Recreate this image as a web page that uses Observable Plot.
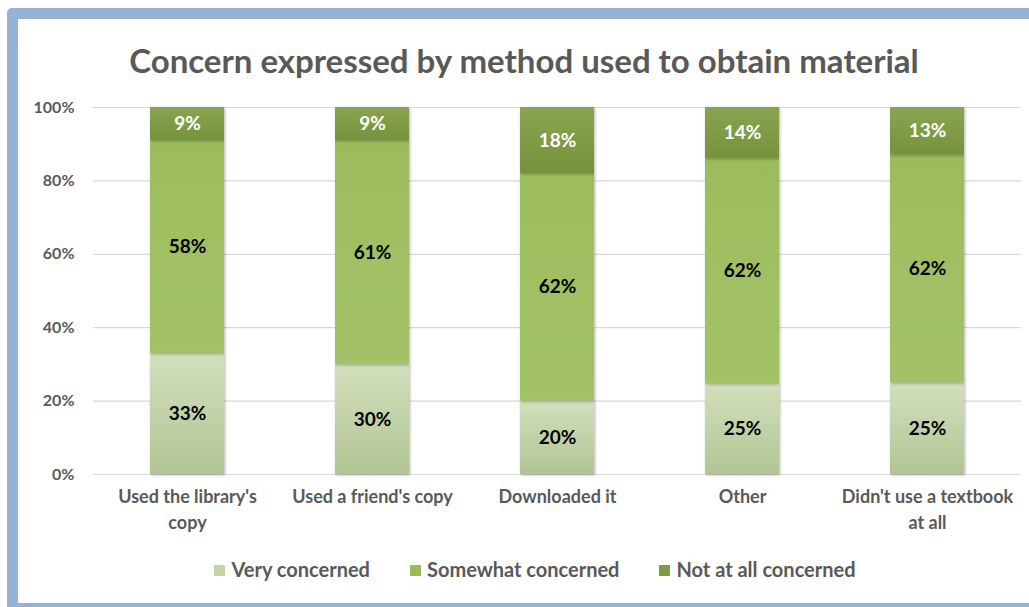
<!DOCTYPE html>
<html><head><meta charset="utf-8">
<script src="https://cdn.jsdelivr.net/npm/d3@7"></script>
<script src="https://cdn.jsdelivr.net/npm/@observablehq/plot@0.6"></script>
<style>
html,body{margin:0;padding:0;background:#fff;}
body{width:1029px;height:607px;overflow:hidden;position:relative;font-family:Lato,"Open Sans",sans-serif;}
#frame{position:absolute;left:7px;top:8px;width:1040px;height:584px;border:11px solid #95b3d7;border-radius:5px;background:#fff;}
#title{position:absolute;left:0;width:1048px;top:40px;text-align:center;font-size:33px;font-weight:700;color:#595959;white-space:nowrap;}
#chart{position:absolute;left:0;top:90px;}
#legend{position:absolute;left:0;width:1070px;top:557px;display:flex;justify-content:center;gap:40px;font-size:20px;font-weight:700;color:#595959;}
#legend span.sw{display:inline-block;width:11px;height:11px;margin-right:6px;vertical-align:1px;}
svg g[aria-label=bar] rect{filter:drop-shadow(1.5px 1px 1.5px rgba(0,0,0,0.3));}
</style></head>
<body>
<div id="frame"></div>
<div id="title">Concern expressed by method used to obtain material</div>
<div id="chart"></div>
<div id="legend"></div>
<script>
const categories = ["Used the library's copy","Used a friend's copy","Downloaded it","Other","Didn't use a textbook at all"];
const tickLabels = ["Used the library's\ncopy","Used a friend's copy","Downloaded it","Other","Didn't use a textbook\nat all"];
const series = ["Very concerned","Somewhat concerned","Not at all concerned"];
const veryConcerned = [33,30,20,25,25];
const somewhatConcerned = [58,61,62,62,62];
const notAtAllConcerned = [9,9,18,14,13];
const yTicks = [0,0.2,0.4,0.6,0.8,1];

const seriesValues = [veryConcerned, somewhatConcerned, notAtAllConcerned];
const gradients = [["#d2e0bd","#b2c493"],["#9cbc5c","#a4c369"],["#89a552","#76923b"]];
const swatchColors = ["#c3d5a6","#9bbb59","#7f9c45"];
const textColors = ["#000","#000","#fff"];

const data = [];
series.forEach((s,i)=>categories.forEach((c,j)=>data.push({category:c, series:s, value:seriesValues[i][j]})));

const stackOpts = {x:"category", y:"value", z:"series", order: series, offset:"normalize"};
const chart = Plot.plot({
  width:1029, height:460,
  marginLeft:93, marginRight:8, marginTop:17, marginBottom:76,
  style:{color:"#595959", fontFamily:"Lato, 'Open Sans', sans-serif", background:"transparent"},
  x:{domain:categories, paddingInner:0.6, paddingOuter:0.3, align:0.5, label:null},
  y:{domain:[0,1], label:null},
  color:{domain:series, range:series.map((s,i)=>`url(#grad${i})`)},
  marks:[
    Plot.gridY(yTicks,{stroke:"#d9d9d9", strokeOpacity:1, strokeWidth:1.2}),
    Plot.axisY({ticks:yTicks, tickFormat:d3.format(".0%"), tickSize:0, tickPadding:19, fontSize:16, fontWeight:700, label:null}),
    Plot.axisX({tickSize:0, tickPadding:10, fontSize:18, fontWeight:700, lineHeight:1.45, tickFormat:(d)=>tickLabels[categories.indexOf(d)], textAnchor:"middle", label:null}),
    Plot.barY(data, Plot.stackY({...stackOpts, fill:"series"})),
    Plot.text(data, Plot.stackY({...stackOpts, text:d=>d.value+"%", fill:d=>textColors[series.indexOf(d.series)], fontSize:19, fontWeight:700})),
  ]
});
const svg = d3.select(chart);
const defs = svg.insert("defs",":first-child");
gradients.forEach((g,i)=>{
  const lg = defs.append("linearGradient").attr("id","grad"+i).attr("x1",0).attr("y1",0).attr("x2",0).attr("y2",1);
  lg.append("stop").attr("offset","0%").attr("stop-color",g[0]);
  lg.append("stop").attr("offset","100%").attr("stop-color",g[1]);
});
document.getElementById("chart").appendChild(chart);

const legend = document.getElementById("legend");
series.forEach((s,i)=>{
  const item = document.createElement("div");
  item.innerHTML = `<span class="sw" style="background:${swatchColors[i]}"></span>${s}`;
  legend.appendChild(item);
});
</script>
</body></html>
